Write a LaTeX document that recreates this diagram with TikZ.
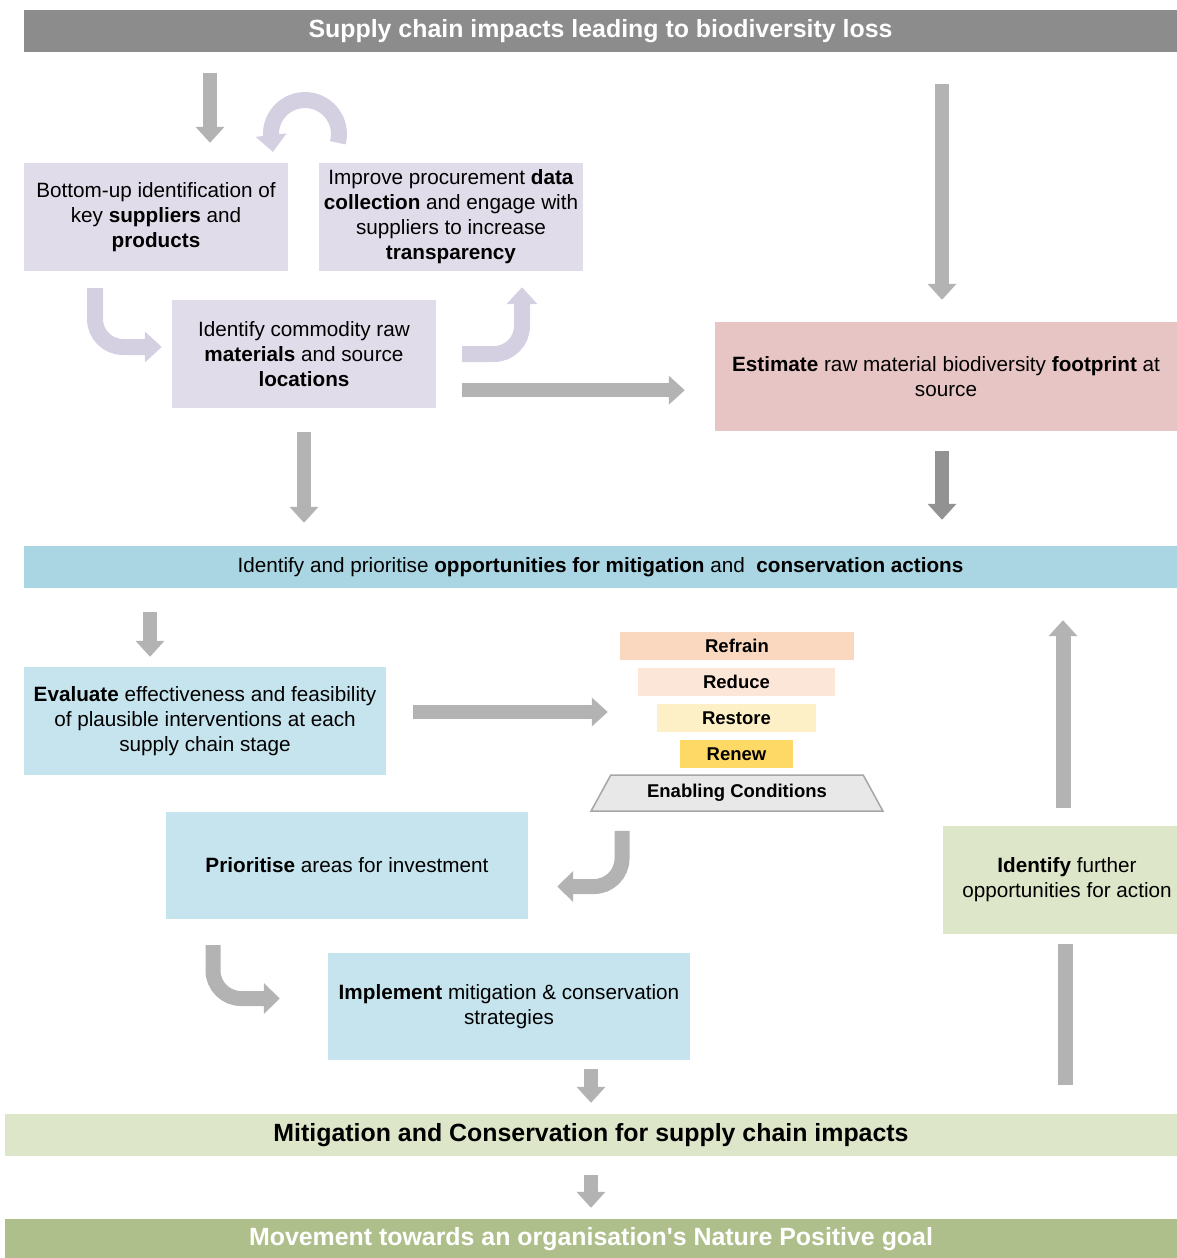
\documentclass[tikz,border=0pt]{standalone}
\usepackage{fontspec}
\setmainfont{Liberation Sans}
\usetikzlibrary{arrows.meta,shapes.geometric,calc}

\definecolor{bannergray}{HTML}{8C8C8C}
\definecolor{arrowgray}{HTML}{B3B3B3}
\definecolor{darkarrow}{HTML}{929292}
\definecolor{lavfill}{HTML}{E1DCEA}
\definecolor{lavarrow}{HTML}{D5CFE2}
\definecolor{rosefill}{HTML}{E8C5C5}
\definecolor{blueband}{HTML}{A9D6E2}
\definecolor{bluefill}{HTML}{C6E4EE}
\definecolor{greenfill}{HTML}{DDE6C8}
\definecolor{olivefill}{HTML}{AFBF8C}
\definecolor{refrainc}{HTML}{F9D8BF}
\definecolor{reducec}{HTML}{FCE6D8}
\definecolor{restorec}{HTML}{FEF0C6}
\definecolor{renewc}{HTML}{FFD966}
\definecolor{enablec}{HTML}{E8E8E8}
\definecolor{enableline}{HTML}{A6A6A6}

\tikzset{
  box/.style={inner sep=0pt, align=center, font=\fontsize{20.7}{25}\selectfont},
  lavbox/.style={box, fill=lavfill, minimum width=264pt, minimum height=108pt},
  bluebox/.style={box, fill=bluefill, minimum width=362pt, minimum height=108pt},
  band/.style={box, minimum height=42pt},
  bigtext/.style={font=\fontsize{24.9}{29}\selectfont\bfseries},
  tier/.style={inner sep=0pt, minimum height=28pt, font=\fontsize{18.5}{22}\selectfont\bfseries},
  blk/.style={draw=arrowgray, line width=14pt, -{Triangle[width=28pt,length=16pt]}},
  lavblk/.style={draw=lavarrow, line width=16pt, -{Triangle[width=30pt,length=17pt]}},
  bendblk/.style={draw=arrowgray, line width=15pt, rounded corners=28pt, -{Triangle[width=30pt,length=16pt]}},
}

\begin{document}
\begin{tikzpicture}[x=1pt, y=-1pt]
    \useasboundingbox (0,0) rectangle (1177,1258);

    % Banners
    \node[band, fill=bannergray, text=white, minimum width=1153pt, bigtext] (top) at (600.5,31)
          {Supply chain impacts leading to biodiversity loss};
    \node[band, fill=blueband, minimum width=1153pt] (prio) at (600.5,567)
          {Identify and prioritise \textbf{opportunities for mitigation} and~ \textbf{conservation actions}};
    \node[band, fill=greenfill, minimum width=1172pt, bigtext] (mitig) at (591,1135)
          {Mitigation and Conservation for supply chain impacts};
    \node[band, fill=olivefill, text=white, minimum width=1172pt, minimum height=40pt, bigtext] (goal) at (591,1239)
          {Movement towards an organisation\textquotesingle s Nature Positive goal};

    % Upper boxes
    \node[lavbox] (bottomup) at (156,217)
          {Bottom-up identification of\\key \textbf{suppliers} and\\\textbf{products}};
    \node[lavbox] (improve) at (451,217)
          {Improve procurement \textbf{data}\\\textbf{collection} and engage with\\suppliers to increase\\\textbf{transparency}};
    \node[lavbox] (commod) at (304,354)
          {Identify commodity raw\\\textbf{materials} and source\\\textbf{locations}};
    \node[box, fill=rosefill, minimum width=462pt, minimum height=109pt] (footp) at (946,376.5)
          {\textbf{Estimate} raw material biodiversity \textbf{footprint} at\\source};

    % Lower boxes
    \node[bluebox] (evalu) at (205,721)
          {\textbf{Evaluate} effectiveness and feasibility\\of plausible interventions at each\\supply chain stage};
    \node[bluebox, minimum height=107pt] (invest) at (347,865.5)
          {\textbf{Prioritise} areas for investment};
    \node[bluebox, minimum height=107pt] (implem) at (509,1006.5)
          {\textbf{Implement} mitigation \& conservation\\strategies};
    \node[box, fill=greenfill, minimum width=248pt, minimum height=108pt] (further) at (1067,880)
          {\textbf{Identify} further\\opportunities for action};

    % Hierarchy stack
    \node[tier, fill=refrainc, minimum width=234pt] (refrain) at (737,646) {Refrain};
    \node[tier, fill=reducec, minimum width=197pt] (reduce) at (736.5,682) {Reduce};
    \node[tier, fill=restorec, minimum width=159pt] (restore) at (736.5,718) {Restore};
    \node[tier, fill=renewc, minimum width=113pt] (renew) at (736.5,754) {Renew};
    \node[trapezium, trapezium angle=51, trapezium stretches=true, inner sep=0pt,
          draw=enableline, line width=1.5pt, fill=enablec, minimum width=292pt, minimum height=36pt,
          font=\fontsize{18.5}{22}\selectfont\bfseries] (enabl) at (737,793) {Enabling Conditions};

    % Straight arrows
    \draw[blk, shorten <=21pt, shorten >=20pt] ($(bottomup.north |- top.south)+(54,0)$) -- ($(bottomup.north)+(54,0)$);
    \draw[blk, shorten <=32pt, shorten >=22pt] ($(footp.north |- top.south)+(-4,0)$) -- ($(footp.north)+(-4,0)$);
    \draw[blk, shorten <=26pt, shorten >=30pt] ($(commod.south east)+(0,-18)$) -- ($(commod.south east -| footp.west)+(0,-18)$);
    \draw[blk, shorten <=24pt, shorten >=23pt] (commod.south) -- (commod.south |- prio.north);
    \draw[blk, draw=darkarrow, shorten <=20pt, shorten >=26pt] ($(footp.south)+(-4,0)$) -- ($(footp.south |- prio.north)+(-4,0)$);
    \draw[blk, shorten <=24pt, shorten >=10pt] ($(prio.south -| evalu.north)+(-55,0)$) -- ($(evalu.north)+(-55,0)$);
    \draw[blk, shorten <=27pt, shorten >=12pt] ($(evalu.east)+(0,-9)$) -- ($(evalu.east -| refrain.west)+(0,-9)$);
    \draw[blk, line width=15pt, shorten <=18pt, shorten >=32pt] ($(further.north)+(-4,0)$) -- ($(further.north |- prio.south)+(-4,0)$);
    \draw[draw=arrowgray, line width=15pt, shorten <=10pt, shorten >=29pt] ($(further.south)+(-2,0)$) -- ($(further.south |- mitig.north)+(-2,0)$);
    \draw[blk, shorten <=9pt, shorten >=11pt] (mitig.north |- implem.south) -- (mitig.north);
    \draw[blk, shorten <=19pt, shorten >=11pt] (mitig.south) -- (goal.north);

    % Curved arrows
    \draw[lavblk] ([xshift=19pt,yshift=20pt]improve.north west)
          arc[start angle=15, end angle=-180, radius=34] -- ++(2,18);
    \draw[lavblk, rounded corners=28pt, shorten <=17pt, shorten >=10pt]
          ([xshift=-61pt]bottomup.south) |- ([yshift=7pt]commod.west);
    \draw[lavblk, rounded corners=28pt, shorten <=26pt, shorten >=16pt]
          (commod.east) -| ([xshift=71pt]improve.south);
    \draw[bendblk, shorten <=19pt, shorten >=29pt]
          ([xshift=-115pt]enabl.south) |- ([yshift=-21pt]invest.east);
    \draw[bendblk, shorten <=26pt, shorten >=48pt]
          ([xshift=-134pt]invest.south) |- ([yshift=8pt]implem.west);
\end{tikzpicture}
\end{document}
